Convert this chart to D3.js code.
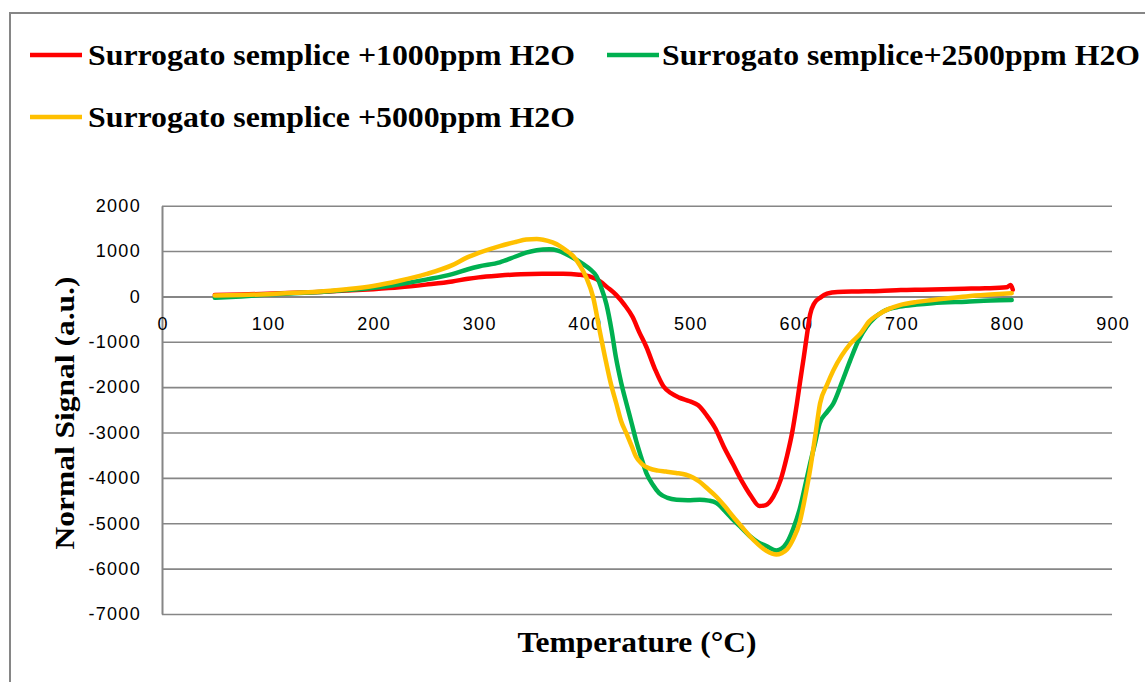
<!DOCTYPE html>
<html>
<head>
<meta charset="utf-8">
<script src="https://cdn.jsdelivr.net/npm/d3@7"></script>
<style>
  body { margin: 0; background: #fff; }
  .tick text { font-family: "Liberation Sans", Arial, sans-serif; font-size: 18px; letter-spacing: 1.3px; fill: #000; }
  .title { font-family: "Liberation Serif", "Times New Roman", serif; font-weight: bold; fill: #000; }
</style>
</head>
<body>
<div id="chart"></div>
<script>
const xTicks = [0, 100, 200, 300, 400, 500, 600, 700, 800, 900];
const yTicks = [2000, 1000, 0, -1000, -2000, -3000, -4000, -5000, -6000, -7000];

const seriesNames = [
  "Surrogato semplice +1000ppm  H2O",
  "Surrogato semplice+2500ppm H2O",
  "Surrogato semplice +5000ppm  H2O"
];
const seriesColors = ["#ff0000", "#00b050", "#ffc000"];

// [temperature, signal]
const red1000 = [
  [50, 30], [75, 40], [100, 60], [125, 80], [150, 100], [175, 130], [200, 160], [225, 200],
  [250, 260], [275, 330], [290, 390], [300, 420], [320, 460], [340, 490], [360, 500], [380, 500],
  [395, 480], [405, 440], [415, 330], [422, 200], [430, 40], [438, -180], [446, -460], [452, -780],
  [459, -1120], [467, -1600], [475, -1980], [482, -2130], [490, -2230], [500, -2310], [508, -2400],
  [516, -2620], [524, -2900], [532, -3300], [541, -3700], [550, -4100], [558, -4400], [566, -4620],
  [572, -4600], [579, -4420], [586, -4050], [592, -3530], [597, -3000], [601.5, -2360], [605, -1800],
  [608, -1340], [611, -850], [614, -400], [618, -150], [624, -20], [630, 60], [640, 100], [660, 110],
  [680, 120], [700, 140], [720, 150], [740, 160], [760, 170], [780, 180], [800, 200], [804, 250], [806, 150]
];
const green2500 = [
  [50, -30], [75, 0], [100, 40], [125, 70], [150, 100], [175, 140], [200, 190], [225, 270],
  [250, 370], [275, 490], [290, 600], [300, 660], [320, 750], [335, 880], [345, 965], [355, 1020],
  [367, 1040], [375, 1010], [383, 930], [391, 830], [399, 710], [406, 590], [411.5, 450], [416, 200],
  [421, -170], [426, -760], [430, -1340], [435, -1900], [440, -2360], [445, -2800], [449, -3165],
  [454, -3550], [459, -3900], [465, -4150], [471, -4335], [479, -4440], [487.5, -4480], [498, -4490],
  [509.5, -4480], [518, -4500], [525, -4550], [533, -4720], [541, -4920], [549, -5100], [557, -5285],
  [565, -5420], [572.6, -5500], [582, -5600], [587, -5560], [592, -5430], [598, -5120], [604, -4700],
  [609, -4200], [614, -3680], [619, -3200], [623, -2800], [630, -2550], [636, -2360], [644, -1900],
  [652, -1410], [660, -960], [667.6, -665], [675, -470], [683, -335], [699, -225], [715, -180],
  [730, -150], [762, -115], [785, -90], [805, -80]
];
const yellow5000 = [
  [50, 20], [75, 30], [100, 50], [125, 80], [150, 110], [175, 160], [200, 230], [225, 345],
  [250, 490], [275, 690], [288.7, 855], [300, 960], [320, 1110], [335, 1200], [345, 1255], [355, 1265],
  [361, 1250], [370, 1190], [377, 1110], [383, 1010], [389.5, 890], [396, 680], [402, 415], [408.5, -20],
  [414.6, -750], [421, -1480], [425, -1900], [430.4, -2360], [435, -2750], [440, -3020], [445, -3300],
  [449, -3530], [455, -3700], [461.6, -3790], [470, -3840], [477.4, -3860], [487, -3890], [496.4, -3930],
  [503, -3990], [509, -4080], [517, -4240], [525, -4410], [533, -4620], [541, -4850], [549, -5070],
  [557, -5285], [565, -5470], [572.6, -5610], [578, -5670], [582, -5690], [587, -5660], [592, -5580],
  [598, -5350], [604, -4990], [609, -4450], [614, -3820], [619, -3050], [623.4, -2360], [630, -1950],
  [636, -1630], [644, -1300], [652, -1045], [662, -810], [670, -550], [678, -410], [688, -280],
  [699, -190], [715, -120], [730, -80], [745, -40], [762, 0], [785, 40], [805, 70]
];
const seriesData = [red1000, green2500, yellow5000];

const width = 1145, height = 682;
const svg = d3.select("#chart").append("svg").attr("width", width).attr("height", height);

// chart area border (Excel-like frame, cut at right/bottom)
svg.append("path")
  .attr("d", "M10,690 L10,13 L1160,13")
  .attr("fill", "none")
  .attr("stroke", "#868686")
  .attr("stroke-width", 2);

const x = d3.scaleLinear().domain([0, 900]).range([162, 1112]);
const y = d3.scaleLinear().domain([-7000, 2000]).range([614, 205.7]);
const plain = d => String(d); // Excel style: no thousands separator, ascii minus

// y axis + gridlines
const yAxis = svg.append("g")
  .attr("transform", `translate(${x(0)},0)`)
  .call(d3.axisLeft(y).tickValues(yTicks).tickFormat(plain)
    .tickSize(-(x(900) - x(0))).tickSizeOuter(0).tickPadding(21));
yAxis.select(".domain").attr("stroke", "#868686").attr("stroke-width", 2);
yAxis.selectAll(".tick line").attr("stroke", "#868686").attr("stroke-width", 1.6);

// x axis crossing at 0
const xAxis = svg.append("g")
  .attr("transform", `translate(0,${y(0)})`)
  .call(d3.axisBottom(x).tickValues(xTicks).tickFormat(plain).tickSize(0).tickPadding(21));
xAxis.select(".domain").attr("stroke", "#868686").attr("stroke-width", 2);
xAxis.selectAll(".tick text").attr("dx", "0.6px");

// series
const line = d3.line().x(d => x(d[0])).y(d => y(d[1])).curve(d3.curveMonotoneX);
svg.append("g")
  .selectAll("path")
  .data(seriesData)
  .join("path")
  .attr("d", line)
  .attr("fill", "none")
  .attr("stroke", (d, i) => seriesColors[i])
  .attr("stroke-width", 4.5)
  .attr("stroke-linejoin", "round")
  .attr("stroke-linecap", "round");

// axis titles
svg.append("text").attr("class", "title")
  .attr("x", 637).attr("y", 652)
  .attr("text-anchor", "middle")
  .attr("font-size", 29)
  .attr("textLength", 239)
  .attr("lengthAdjust", "spacingAndGlyphs")
  .text("Temperature (°C)");

svg.append("text").attr("class", "title")
  .attr("transform", "translate(74,413) rotate(-90)")
  .attr("text-anchor", "middle")
  .attr("font-size", 28)
  .attr("textLength", 273)
  .attr("lengthAdjust", "spacingAndGlyphs")
  .text("Normal Signal (a.u.)");

// legend
const legendPos = [[30, 55, 88, 487], [607, 55, 662, 478], [30, 117, 88, 487]];
const legend = svg.append("g")
  .selectAll("g")
  .data(seriesNames)
  .join("g");
legend.append("line")
  .attr("x1", (d, i) => legendPos[i][0]).attr("x2", (d, i) => legendPos[i][0] + 52)
  .attr("y1", (d, i) => legendPos[i][1]).attr("y2", (d, i) => legendPos[i][1])
  .attr("stroke", (d, i) => seriesColors[i])
  .attr("stroke-width", 4.5);
legend.append("text").attr("class", "title")
  .attr("x", (d, i) => legendPos[i][2])
  .attr("y", (d, i) => legendPos[i][1] + 10)
  .attr("font-size", 29)
  .attr("textLength", (d, i) => legendPos[i][3])
  .attr("lengthAdjust", "spacingAndGlyphs")
  .text(d => d);
</script>
</body>
</html>
